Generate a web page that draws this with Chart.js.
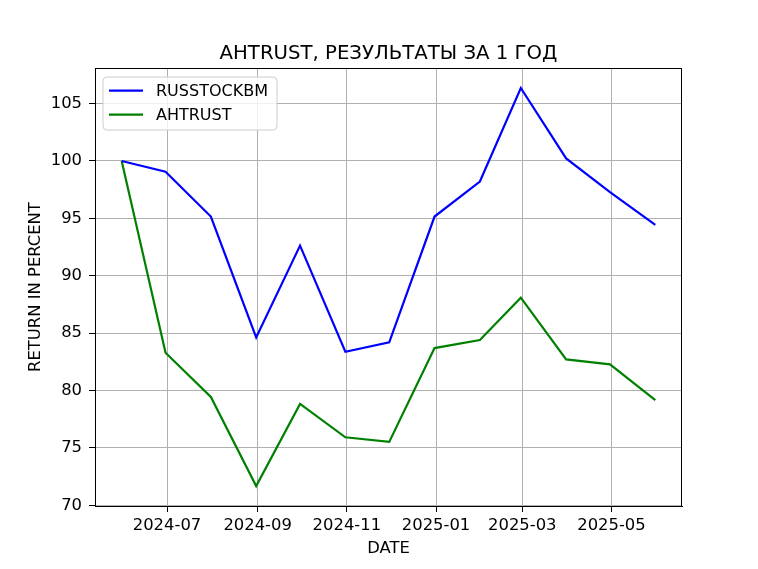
<!DOCTYPE html>
<html>
<head>
<meta charset="utf-8">
<script src="https://cdn.jsdelivr.net/npm/chart.js@4"></script>
<style>
  html, body { margin: 0; padding: 0; background: #ffffff; }
  #wrap { width: 758px; height: 569px; }
</style>
</head>
<body>
<div id="wrap"><canvas id="c" width="758" height="569"></canvas></div>
<script>
// ---- data ----
const dates = ["2024-05-31","2024-06-30","2024-07-31","2024-08-31","2024-09-30","2024-10-31",
               "2024-11-30","2024-12-31","2025-01-31","2025-02-28","2025-03-31","2025-04-30","2025-05-31"];
const russtockbm = [100.0, 99.06, 95.16, 84.63, 92.63, 83.38, 84.2, 95.16, 98.21, 106.36, 100.22, 97.29, 94.43];
const ahtrust    = [100.0, 83.29, 79.45, 71.68, 78.84, 75.93, 75.53, 83.70, 84.40, 88.09, 82.71, 82.28, 79.16];
const xTickLabels = ["2024-07","2024-09","2024-11","2025-01","2025-03","2025-05"];
const yTickValues = [70, 75, 80, 85, 90, 95, 100, 105];
const seriesNames = ["RUSSTOCKBM", "AHTRUST"];
const titleText = "AHTRUST, РЕЗУЛЬТАТЫ ЗА 1 ГОД";
const xTitle = "DATE";
const yTitle = "RETURN IN PERCENT";

// ---- helpers ----
const DAY = 86400000;
const toDay = s => Date.parse(s + "T00:00:00Z") / DAY;
const xs = dates.map(toDay);
const xTickVals = xTickLabels.map(s => toDay(s + "-01"));
const span = xs[xs.length - 1] - xs[0];
const xMin = xs[0] - span * 0.05, xMax = xs[xs.length - 1] + span * 0.05;
const allY = russtockbm.concat(ahtrust);
const yLo = Math.min(...allY), yHi = Math.max(...allY);
const yMin = yLo - (yHi - yLo) * 0.05, yMax = yHi + (yHi - yLo) * 0.05;

const FONT = "'DejaVu Sans', sans-serif";
const colors = ["#0000ff", "#008000"];

const frameAndLegend = {
  id: 'frameAndLegend',
  afterDraw(chart) {
    const ctx = chart.ctx, a = chart.chartArea;
    ctx.save();
    // spines
    ctx.strokeStyle = '#000000';
    ctx.lineWidth = 1;
    ctx.strokeRect(Math.round(a.left) + 0.5, Math.round(a.top) + 0.5,
                   Math.round(a.right - a.left) - 1, Math.round(a.bottom - a.top));
    // legend
    const lx = a.left + 8, ly = a.top + 9, lw = 174, lh = 53, r = 4;
    ctx.beginPath();
    ctx.moveTo(lx + r, ly);
    ctx.arcTo(lx + lw, ly, lx + lw, ly + lh, r);
    ctx.arcTo(lx + lw, ly + lh, lx, ly + lh, r);
    ctx.arcTo(lx, ly + lh, lx, ly, r);
    ctx.arcTo(lx, ly, lx + lw, ly, r);
    ctx.closePath();
    ctx.fillStyle = 'rgba(255,255,255,0.8)';
    ctx.fill();
    ctx.strokeStyle = '#cccccc';
    ctx.lineWidth = 1;
    ctx.stroke();
    ctx.font = "16px " + FONT;
    ctx.textBaseline = 'middle';
    ctx.textAlign = 'left';
    chart.data.datasets.forEach((ds, i) => {
      const yy = ly + 13.5 + i * 24;
      ctx.strokeStyle = ds.borderColor;
      ctx.lineWidth = 2.2;
      ctx.beginPath();
      ctx.moveTo(lx + 6, yy);
      ctx.lineTo(lx + 40, yy);
      ctx.stroke();
      ctx.fillStyle = '#000000';
      ctx.fillText(ds.label, lx + 53, yy + 1);
    });
    ctx.restore();
  }
};

new Chart(document.getElementById('c'), {
  type: 'line',
  data: {
    datasets: [
      { label: seriesNames[0], data: xs.map((x, i) => ({ x, y: russtockbm[i] })),
        borderColor: colors[0], backgroundColor: colors[0], borderWidth: 2.2,
        pointRadius: 0, tension: 0, fill: false },
      { label: seriesNames[1], data: xs.map((x, i) => ({ x, y: ahtrust[i] })),
        borderColor: colors[1], backgroundColor: colors[1], borderWidth: 2.2,
        pointRadius: 0, tension: 0, fill: false }
    ]
  },
  options: {
    responsive: false,
    animation: false,
    devicePixelRatio: 1,
    layout: { padding: { top: 0, right: 76, bottom: 0, left: 0 } },
    plugins: {
      legend: { display: false },
      tooltip: { enabled: false },
      title: {
        display: true, text: titleText, color: '#000000', fullSize: false,
        font: { family: FONT, size: 19.7, weight: 'normal' },
        padding: { top: 42, bottom: 2.4 }
      }
    },
    scales: {
      x: {
        type: 'linear', min: xMin, max: xMax,
        afterBuildTicks: s => { s.ticks = xTickVals.map(v => ({ value: v })); },
        afterFit: s => { s.height = 63; },
        ticks: {
          color: '#000000', font: { family: FONT, size: 16.4 }, padding: 4,
          maxRotation: 0, autoSkip: false,
          callback: (v) => { const i = xTickVals.indexOf(v); return i >= 0 ? xTickLabels[i] : ''; }
        },
        grid: { color: '#b0b0b0', lineWidth: 1, tickColor: '#000000', tickLength: 6, drawTicks: true },
        border: { display: true, color: '#000000', width: 1 },
        title: { display: true, text: xTitle, color: '#000000',
                 font: { family: FONT, size: 16.4 }, padding: { top: 10.5, bottom: 10.5 } }
      },
      y: {
        type: 'linear', min: yMin, max: yMax,
        afterBuildTicks: s => { s.ticks = yTickValues.map(v => ({ value: v })); },
        afterFit: s => { s.width = 95; },
        ticks: { color: '#000000', font: { family: FONT, size: 16.4 }, padding: 7 },
        grid: { color: '#b0b0b0', lineWidth: 1, tickColor: '#000000', tickLength: 6, drawTicks: true },
        border: { display: true, color: '#000000', width: 1 },
        title: { display: true, text: yTitle, color: '#000000',
                 font: { family: FONT, size: 16.4 }, padding: { top: 26, bottom: 26 } }
      }
    }
  },
  plugins: [frameAndLegend]
});
</script>
</body>
</html>
